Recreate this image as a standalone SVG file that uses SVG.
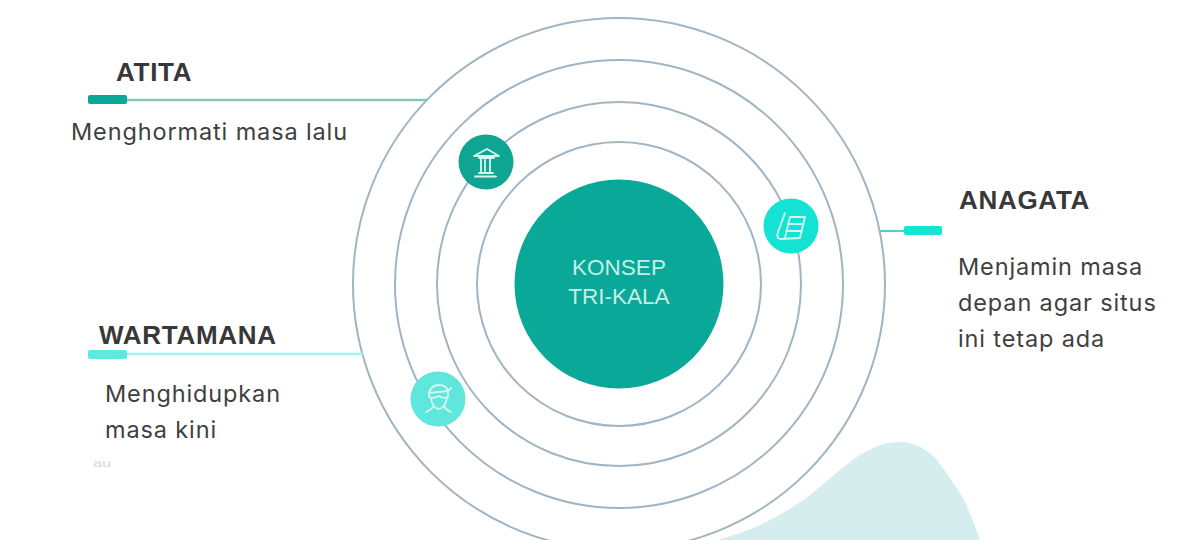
<svg xmlns="http://www.w3.org/2000/svg" width="1191" height="540" viewBox="0 0 1191 540">
<style>
.ring{fill:none;stroke:#a0b4c2;stroke-width:2}
.h{font-family:"Liberation Sans",Arial,sans-serif;font-weight:700;font-size:26px;fill:#383838;letter-spacing:.7px}
.b{font-family:"Inter","Liberation Sans",sans-serif;font-size:23.500px;fill:#3f3f3f;letter-spacing:.87px}
.c{font-family:"Liberation Sans",Arial,sans-serif;font-size:22.500px;fill:#c4efe7;text-anchor:middle}
.i{fill:none;stroke:#d8f6f0;stroke-width:1.8;stroke-linejoin:round;stroke-linecap:round}
</style>
<rect width="1191" height="540" fill="#fff"/>
<path id="blob" d="M717 540C740 534 755 528 770 520C785 512 797 505 810 495C825 483 838 471 850 462C862 453 880 442 900 442C915 442 928 450 937 460C946 472 955 485 963 498C970 512 975 526 980 540Z" fill="#d5eded"/>
<g id="rings">
<circle class="ring" cx="619" cy="284" r="266"/>
<circle class="ring" cx="619" cy="284" r="224"/>
<circle class="ring" cx="619" cy="284" r="182"/>
<circle class="ring" cx="619" cy="284" r="142"/>
</g>
<g id="connectors">
<line x1="126" y1="100" x2="427" y2="100" stroke="#84c5bd" stroke-width="2.4"/>
<rect x="88" y="95" width="39" height="9" rx="2" fill="#0aa896"/>
<line x1="127" y1="354" x2="363" y2="354" stroke="#a0f2ea" stroke-width="2.4"/>
<rect x="88" y="350" width="39" height="9" rx="2" fill="#5ceae0"/>
<line x1="880" y1="231" x2="905" y2="231" stroke="#5fc9c3" stroke-width="2.2"/>
<rect x="904" y="226" width="38" height="9" rx="2" fill="#12e6d6"/>
</g>
<g id="center">
<circle cx="619" cy="284" r="104.500" fill="#0aa899"/>
<text class="c" x="619" y="275">KONSEP</text>
<text class="c" x="619" y="304">TRI-KALA</text>
</g>
<g id="node-atita">
<circle cx="486" cy="162" r="27.500" fill="#0ea593"/>
<path class="i" d="M474 156L487 149L499 156ZM479 158H494M481 158V172M490 158V172M485 160V171M479 173H493M475 176.500H496"/>
</g>
<g id="node-anagata">
<circle cx="791" cy="226" r="27.500" fill="#14e3d3"/>
<path class="i" d="M785 213L778 232Q776 238 780 239L800 238L805 217H790L785 238M788 224H803M786 231H802"/>
</g>
<g id="node-wartamana">
<circle cx="438" cy="399" r="27.500" fill="#5fe6dd"/>
<path class="i" d="M429 393Q431 385 439 385Q446 385 448 391ZM429 393V397Q433 399 439 396Q444 399 448 397V391L451 388M431 398Q432 408 439 409Q445 408 447 398M426 412Q431 410 434 406M451 412Q446 410 444 406"/>
</g>
<g id="label-atita">
<text class="h" x="116" y="81">ATITA</text>
<text class="b" x="71" y="140">Menghormati masa lalu</text>
</g>
<g id="label-wartamana">
<text class="h" x="99" y="344">WARTAMANA</text>
<text class="b" x="105" y="402">Menghidupkan</text>
<text class="b" x="105" y="438">masa kini</text>
</g>
<g id="label-anagata">
<text class="h" x="959" y="209">ANAGATA</text>
<text class="b" x="958" y="275">Menjamin masa</text>
<text class="b" x="958" y="311">depan agar situs</text>
<text class="b" x="958" y="347">ini tetap ada</text>
</g>
<text x="93" y="467" font-family="Liberation Sans,sans-serif" font-size="10" fill="#cfd8de" textLength="18" lengthAdjust="spacingAndGlyphs">au</text>
</svg>
